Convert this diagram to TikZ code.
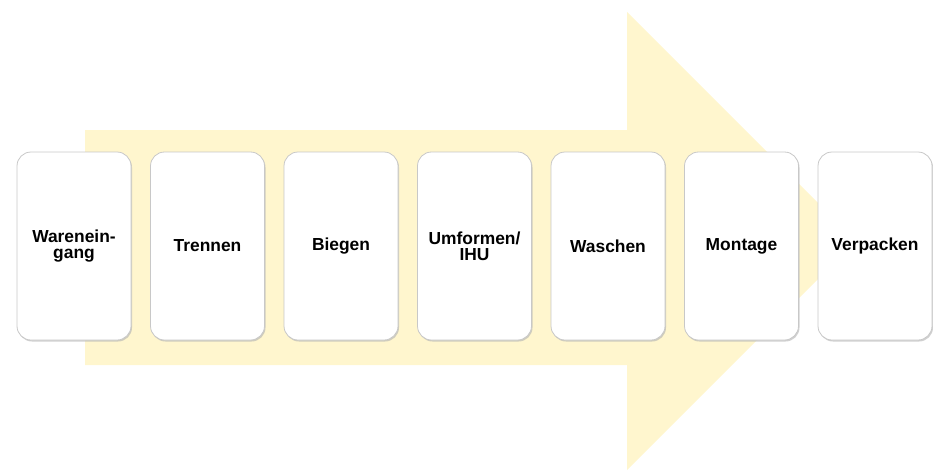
\documentclass[tikz,border=0pt]{standalone}
\usepackage{fontspec}
\setmainfont{Liberation Sans}
\usepackage{tikz}
\usetikzlibrary{positioning}
\usetikzlibrary{shadows}

\definecolor{arrowyellow}{HTML}{FFF6CE}
\definecolor{boxline}{HTML}{C8C8C8}

\begin{document}
\begin{tikzpicture}[x=1pt, y=-1pt]
        \useasboundingbox (0,0) rectangle (933,472);

        % big arrow in the back
        \fill[arrowyellow]
        (85,130) -- (627,130) -- (627,12) -- (856,241)
        -- (627,470) -- (627,365) -- (85,365) -- cycle;

        \foreach \lbl [count=\i] in {{Warenein-\\gang}, Trennen, Biegen,
            {Umformen/\\IHU}, Waschen, Montage, Verpacken}
        {
            \node[rectangle,
                rounded corners = 14pt,
                draw=boxline,
                line width = 0.8pt,
                fill=white,
                drop shadow={shadow xshift=1pt, shadow yshift=-1.5pt,
                    fill=black!30, opacity=0.6},
                minimum width = 114pt,
                minimum height = 188pt,
                text width = 106pt,
                align=center,
                font=\fontsize{17.4}{16}\selectfont\bfseries]
            (b\i) at (74+\i*133.5-133.5, 246) {\lbl};
        }
        \end{tikzpicture}
\end{document}
